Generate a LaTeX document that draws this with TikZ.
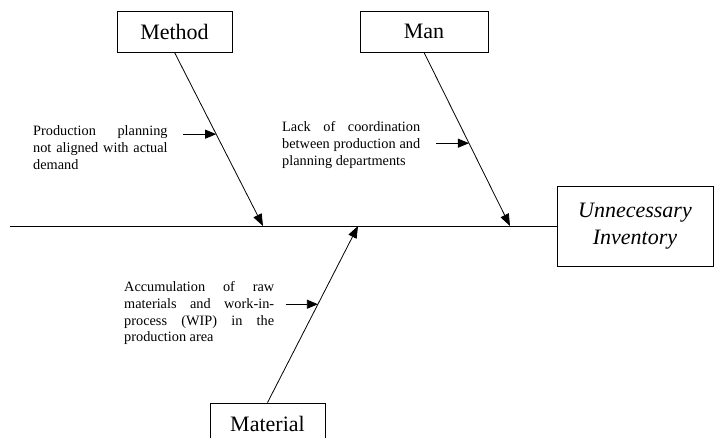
\documentclass[tikz,border=0pt]{standalone}
\usepackage{fontspec}
\setmainfont{Liberation Serif}
\usetikzlibrary{calc,positioning,arrows.meta}
\tikzset{
 fb box/.style={draw,line width=.8pt,inner sep=0pt,minimum height=41pt,
                font=\fontsize{22}{26}\selectfont},
 fb head/.style={draw,line width=.8pt,inner sep=0pt,minimum width=156pt,
                 minimum height=80pt,align=center,
                 font=\fontsize{22}{27.5}\selectfont\itshape},
 fb spine/.style={line width=.9pt},
 fb bone/.style={line width=.8pt,-{Triangle[length=12pt,width=9pt]}},
 fb cause/.style={anchor=north west,inner sep=0pt,align=justify,
                  font=\fontsize{14.3}{16.7}\selectfont},
 fb cause arrow/.style={line width=.8pt,-{Triangle[length=11pt,width=9pt]}}
}
\begin{document}
\begin{tikzpicture}[x=1pt,y=-1pt]
 \clip (0,0) rectangle (715,437);
 % effect and spine
 \node[fb head] (effect) at (635,226) {Unnecessary\\Inventory};
 \coordinate (tail) at (10,226);
 \draw[fb spine] (tail) -- (effect);
 % categories
 \node[fb box,minimum width=115pt] (method) at (174.5,31.5) {Method};
 \node[fb box,minimum width=128pt] (man) at (424,31.5) {Man};
 \node[fb box,minimum width=115pt] (material) at (267.5,423.5) {Material};
 \coordinate (methodhit) at (263,226);
 \coordinate (manhit) at (510,226);
 \coordinate (materialhit) at (358,226);
 \draw[fb bone] (method.south) -- (methodhit);
 \draw[fb bone] (man.south) -- (manhit);
 \draw[fb bone] (material.north) -- (materialhit);
 % causes
 \path (method.south) -- (methodhit) coordinate[pos=.471] (methoddot);
 \path (man.south) -- (manhit) coordinate[pos=.523] (mandot);
 \path (material.north) -- (materialhit) coordinate[pos=.557] (materialdot);
 \node[fb cause,text width=134.4pt] (methodcause) at (33,125.5)
   {Production planning\linebreak not aligned with actual\linebreak demand};
 \node[fb cause,text width=138pt] (mancause) at (282,121.5)
   {Lack of coordination\linebreak between production and\linebreak planning departments};
 \node[fb cause,text width=150pt] (materialcause) at (124,281.5)
   {Accumulation of raw\linebreak materials and work-in-\linebreak process (WIP) in the\linebreak production area};
 \draw[fb cause arrow] ($(methoddot)+(-33,0)$) -- (methoddot);
 \draw[fb cause arrow] ($(mandot)+(-33,0)$) -- (mandot);
 \draw[fb cause arrow] ($(materialdot)+(-32,0)$) -- (materialdot);
\end{tikzpicture}
\end{document}
